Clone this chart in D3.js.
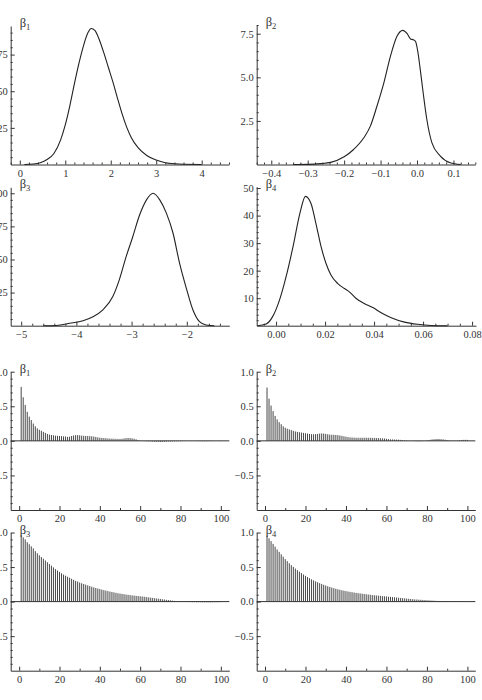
<!DOCTYPE html>
<html>
<head>
<meta charset="utf-8">
<script src="https://cdn.jsdelivr.net/npm/d3@7"></script>
<style>
  body { margin: 0; background: #fff; }
  svg { display: block; }
  .axis path, .axis line { stroke: #333; stroke-width: 1; }
  .tick text { font-family: "Liberation Serif", "DejaVu Serif", serif; font-size: 10.5px; fill: #333; }
  .dens { fill: none; stroke: #222; stroke-width: 1.1; }
  .bar { stroke: #333; stroke-width: 0.9; }
  .zero { stroke: #333; stroke-width: 1; }
  .blab { font-family: "Liberation Serif", "DejaVu Serif", serif; font-size: 12.5px; fill: #333; }
</style>
</head>
<body>
<div id="chart"></div>
<script>
// posterior densities (x, density)
const densX1 = [0.1, 0.3, 0.45, 0.6, 0.75, 0.9, 1.0, 1.1, 1.2, 1.3, 1.4, 1.5, 1.57, 1.65, 1.75, 1.85, 1.95, 2.05, 2.15, 2.25, 2.35, 2.45, 2.6, 2.8, 3.0, 3.2, 3.5, 4.0];
const densY1 = [0, 0.003, 0.012, 0.034, 0.075, 0.17, 0.27, 0.40, 0.55, 0.69, 0.81, 0.90, 0.928, 0.915, 0.85, 0.76, 0.66, 0.56, 0.45, 0.345, 0.255, 0.185, 0.115, 0.06, 0.03, 0.012, 0.003, 0];

const densX2 = [-0.34, -0.30, -0.265, -0.237, -0.20, -0.174, -0.146, -0.128, -0.11, -0.091, -0.073, -0.055, -0.039, -0.027, -0.018, -0.010, -0.004, 0.002, 0.008, 0.017, 0.027, 0.041, 0.064, 0.091, 0.12];
const densY2 = [0, 0.01, 0.05, 0.12, 0.44, 0.86, 1.53, 2.2, 3.34, 4.68, 6.2, 7.35, 7.69, 7.5, 7.2, 7.15, 7.05, 6.5, 5.6, 4.1, 2.58, 1.24, 0.48, 0.1, 0];

const densX3 = [-4.6, -4.36, -4.12, -3.88, -3.70, -3.52, -3.34, -3.22, -3.10, -2.98, -2.86, -2.73, -2.61, -2.49, -2.37, -2.25, -2.13, -2.0, -1.89, -1.77, -1.65, -1.5];
const densY3 = [0, 0.002, 0.018, 0.038, 0.068, 0.12, 0.22, 0.35, 0.52, 0.67, 0.83, 0.95, 1.0, 0.95, 0.85, 0.70, 0.47, 0.27, 0.12, 0.03, 0.005, 0];

const densX4 = [-0.0076, -0.0041, -0.0014, 0.0014, 0.0041, 0.0069, 0.0097, 0.012, 0.0143, 0.0163, 0.0184, 0.0204, 0.0224, 0.0252, 0.0279, 0.0299, 0.0327, 0.036, 0.0395, 0.0429, 0.047, 0.0524, 0.0578, 0.0633, 0.07];
const densY4 = [0, 0.6, 3.3, 9.3, 17.8, 28.6, 40.7, 47.0, 44.3, 37, 28.6, 22.6, 18.4, 15.3, 13.5, 12.3, 9.9, 8.1, 6.6, 4.7, 2.9, 1.3, 0.5, 0.1, 0];

// autocorrelations, lags 1..100
const acf1 = [0.78, 0.63, 0.52, 0.42, 0.35, 0.30, 0.25, 0.21, 0.18, 0.16,
  0.145, 0.13, 0.115, 0.10, 0.09, 0.085, 0.08, 0.075, 0.072, 0.07,
  0.068, 0.065, 0.062, 0.058, 0.06, 0.07, 0.078, 0.082, 0.083, 0.08,
  0.076, 0.072, 0.07, 0.07, 0.068, 0.066, 0.062, 0.056, 0.05, 0.045,
  0.042, 0.04, 0.038, 0.035, 0.033, 0.031, 0.03, 0.029, 0.028, 0.028,
  0.03, 0.035, 0.04, 0.042, 0.04, 0.036, 0.03, 0.022, 0.012, 0.004,
  -0.002, -0.004, -0.006, -0.008, -0.009, -0.011, -0.013, -0.015, -0.016, -0.016,
  -0.015, -0.014, -0.012, -0.01, -0.009, -0.008, -0.007, -0.006, -0.005, -0.004,
  -0.003, -0.002, -0.001, 0.0, 0.001, 0.0, -0.001, -0.002, -0.003, -0.004,
  -0.005, -0.005, -0.004, -0.003, -0.002, -0.001, 0.0, 0.001, 0.002, 0.002];
const acf2 = [0.77, 0.61, 0.51, 0.43, 0.36, 0.31, 0.27, 0.24, 0.21, 0.19,
  0.175, 0.165, 0.155, 0.145, 0.135, 0.13, 0.125, 0.12, 0.115, 0.11,
  0.105, 0.1, 0.097, 0.095, 0.097, 0.1, 0.105, 0.107, 0.105, 0.1,
  0.095, 0.09, 0.088, 0.087, 0.085, 0.082, 0.078, 0.072, 0.066, 0.06,
  0.055, 0.05, 0.048, 0.046, 0.045, 0.044, 0.044, 0.044, 0.045, 0.045,
  0.045, 0.044, 0.043, 0.042, 0.041, 0.04, 0.038, 0.036, 0.034, 0.03,
  0.025, 0.022, 0.02, 0.019, 0.018, 0.017, 0.014, 0.01, 0.006, 0.004,
  0.002, 0.0, -0.002, -0.004, -0.005, -0.006, -0.005, -0.003, 0.001, 0.006,
  0.012, 0.018, 0.022, 0.025, 0.027, 0.027, 0.025, 0.022, 0.017, 0.011,
  0.006, 0.003, 0.002, 0.003, 0.005, 0.008, 0.011, 0.014, 0.015, 0.014];
const acf3 = [0.96, 0.93, 0.90, 0.86, 0.83, 0.80, 0.77, 0.73, 0.70, 0.67,
  0.645, 0.62, 0.595, 0.57, 0.545, 0.52, 0.495, 0.47, 0.45, 0.43,
  0.41, 0.39, 0.375, 0.36, 0.345, 0.33, 0.315, 0.30, 0.29, 0.275,
  0.265, 0.255, 0.245, 0.235, 0.225, 0.215, 0.205, 0.197, 0.189, 0.181,
  0.173, 0.166, 0.159, 0.152, 0.145, 0.139, 0.133, 0.127, 0.121, 0.116,
  0.111, 0.106, 0.102, 0.098, 0.094, 0.09, 0.087, 0.083, 0.08, 0.077,
  0.074, 0.07, 0.066, 0.062, 0.058, 0.054, 0.05, 0.046, 0.042, 0.038,
  0.034, 0.03, 0.026, 0.022, 0.018, 0.014, 0.01, 0.006, 0.003, 0.0,
  -0.002, -0.004, -0.005, -0.006, -0.007, -0.008, -0.008, -0.009, -0.009, -0.009,
  -0.01, -0.01, -0.01, -0.01, -0.01, -0.009, -0.009, -0.008, -0.008, -0.007];
const acf4 = [0.955, 0.915, 0.875, 0.835, 0.795, 0.755, 0.72, 0.685, 0.65, 0.615,
  0.585, 0.555, 0.528, 0.502, 0.478, 0.455, 0.433, 0.412, 0.392, 0.373,
  0.355, 0.338, 0.322, 0.307, 0.293, 0.28, 0.267, 0.255, 0.243, 0.232,
  0.222, 0.212, 0.203, 0.194, 0.186, 0.178, 0.171, 0.164, 0.158, 0.152,
  0.146, 0.141, 0.136, 0.131, 0.126, 0.122, 0.118, 0.114, 0.11, 0.106,
  0.102, 0.099, 0.095, 0.092, 0.089, 0.086, 0.083, 0.08, 0.077, 0.074,
  0.071, 0.068, 0.065, 0.062, 0.059, 0.056, 0.053, 0.05, 0.047, 0.044,
  0.041, 0.038, 0.035, 0.032, 0.03, 0.028, 0.026, 0.024, 0.022, 0.02,
  0.018, 0.016, 0.014, 0.012, 0.01, 0.009, 0.008, 0.007, 0.006, 0.005,
  0.004, 0.003, 0.002, 0.002, 0.001, 0.001, 0.0, 0.0, 0.0, 0.0];

// tick values
const xTicks1 = [0, 1, 2, 3, 4];
const yTicks1 = [0.25, 0.5, 0.75];
const xTicks2 = [-0.4, -0.3, -0.2, -0.1, 0, 0.1];
const yTicks2 = [2.5, 5, 7.5];
const xTicks3 = [-5, -4, -3, -2];
const yTicks3 = [0.25, 0.5, 0.75, 1];
const xTicks4 = [0, 0.02, 0.04, 0.06, 0.08];
const yTicks4 = [10, 20, 30, 40, 50];
const lagTicks = [0, 20, 40, 60, 80, 100];
const acfTicks = [-0.5, 0, 0.5, 1];

const labels = ['1', '2', '3', '4', '1', '2', '3', '4'];

// layout of the 8 panels
const L = [10.7, 229.3], R = [256.7, 475.3];
const panels = [
  { kind: 'dens', xs: densX1, ys: densY1, xDom: [-0.2, 4.6], yDom: [0, 0.945], xr: [10.7, 229], yr: [164.5, 26],
    xTicks: xTicks1, xMinor: 0.2, xFmt: 'd', yTicks: yTicks1, yMinor: 0.05, yFmt: '.2f' },
  { kind: 'dens', xs: densX2, ys: densY2, xDom: [-0.44, 0.16], yDom: [0, 8.0], xr: R, yr: [164.5, 25],
    xTicks: xTicks2, xMinor: 0.02, xFmt: '.1f', yTicks: yTicks2, yMinor: 0.5, yFmt: '.1f' },
  { kind: 'dens', xs: densX3, ys: densY3, xDom: [-5.19, -1.23], yDom: [0, 1.045], xr: L, yr: [325.7, 187.3],
    xTicks: xTicks3, xMinor: 0.2, xFmt: 'd', yTicks: yTicks3, yMinor: 0.05, yFmt: '.2f' },
  { kind: 'dens', xs: densX4, ys: densY4, xDom: [-0.0079, 0.0816], yDom: [0, 50.5], xr: [256.7, 476], yr: [325.7, 186.7],
    xTicks: xTicks4, xMinor: 0.005, xFmt: '.2f', yTicks: yTicks4, yMinor: 2, yFmt: 'd' },
  { kind: 'acf', acf: acf1, xDom: [-4.2, 104.2], yDom: [-1, 1], xr: L, yr: [510, 371.7] },
  { kind: 'acf', acf: acf2, xDom: [-4.1, 103.9], yDom: [-1, 1], xr: R, yr: [510, 371.7] },
  { kind: 'acf', acf: acf3, xDom: [-4.2, 104.2], yDom: [-1, 1], xr: L, yr: [670.7, 532.5] },
  { kind: 'acf', acf: acf4, xDom: [-4.1, 103.9], yDom: [-1, 1], xr: R, yr: [670.7, 532.5] }
];
panels.forEach(p => {
  if (p.kind === 'acf') {
    Object.assign(p, { xTicks: lagTicks, xMinor: 10, xFmt: 'd', yTicks: acfTicks, yMinor: 0.1, yFmt: '.1f' });
  }
});

const svg = d3.select('#chart').append('svg').attr('width', 482).attr('height', 700);

// minor tick positions between the labelled ones
function minors(dom, step, major) {
  const k0 = Math.ceil(dom[0] / step - 1e-9), k1 = Math.floor(dom[1] / step + 1e-9);
  return d3.range(k0, k1 + 1).map(k => k * step)
    .filter(v => !major.some(m => Math.abs(m - v) < step / 10));
}

panels.forEach((p, i) => {
  const g = svg.append('g');
  const x = d3.scaleLinear().domain(p.xDom).range(p.xr);
  const y = d3.scaleLinear().domain(p.yDom).range(p.yr);

  // x axis (ticks point inward)
  g.append('g').attr('class', 'axis').attr('transform', `translate(0,${p.yr[0]})`)
    .call(d3.axisBottom(x).tickValues(minors(p.xDom, p.xMinor, p.xTicks)).tickSize(-2).tickFormat(''))
    .call(a => a.select('.domain').remove());
  g.append('g').attr('class', 'axis').attr('transform', `translate(0,${p.yr[0]})`)
    .call(d3.axisBottom(x).tickValues(p.xTicks).tickSizeInner(-4).tickSizeOuter(0).tickPadding(5)
      .tickFormat(d3.format(p.xFmt)));

  // y axis
  g.append('g').attr('class', 'axis').attr('transform', `translate(${p.xr[0]},0)`)
    .call(d3.axisLeft(y).tickValues(minors(p.yDom, p.yMinor, p.yTicks).filter(v => v > p.yDom[0])).tickSize(-2).tickFormat(''))
    .call(a => a.select('.domain').remove());
  g.append('g').attr('class', 'axis').attr('transform', `translate(${p.xr[0]},0)`)
    .call(d3.axisLeft(y).tickValues(p.yTicks).tickSizeInner(-4).tickSizeOuter(0).tickPadding(3)
      .tickFormat(d3.format(p.yFmt)));

  if (p.kind === 'dens') {
    const pts = p.xs.map((v, j) => [v, p.ys[j]]);
    g.append('path').datum(pts).attr('class', 'dens')
      .attr('d', d3.line().x(d => x(d[0])).y(d => y(d[1])).curve(d3.curveMonotoneX));
  } else {
    g.append('line').attr('class', 'zero')
      .attr('x1', p.xr[0]).attr('x2', p.xr[1]).attr('y1', y(0)).attr('y2', y(0));
    g.selectAll('line.bar').data(p.acf).join('line').attr('class', 'bar')
      .attr('x1', (d, j) => x(j + 1)).attr('x2', (d, j) => x(j + 1))
      .attr('y1', y(0)).attr('y2', d => y(d));
  }

  // parameter label
  const t = g.append('text').attr('class', 'blab')
    .attr('x', p.xr[0] + 9).attr('y', p.yr[1] + 1).text('β');
  t.append('tspan').attr('dy', 3).attr('font-size', '8.5px').text(labels[i]);
});
</script>
</body>
</html>
